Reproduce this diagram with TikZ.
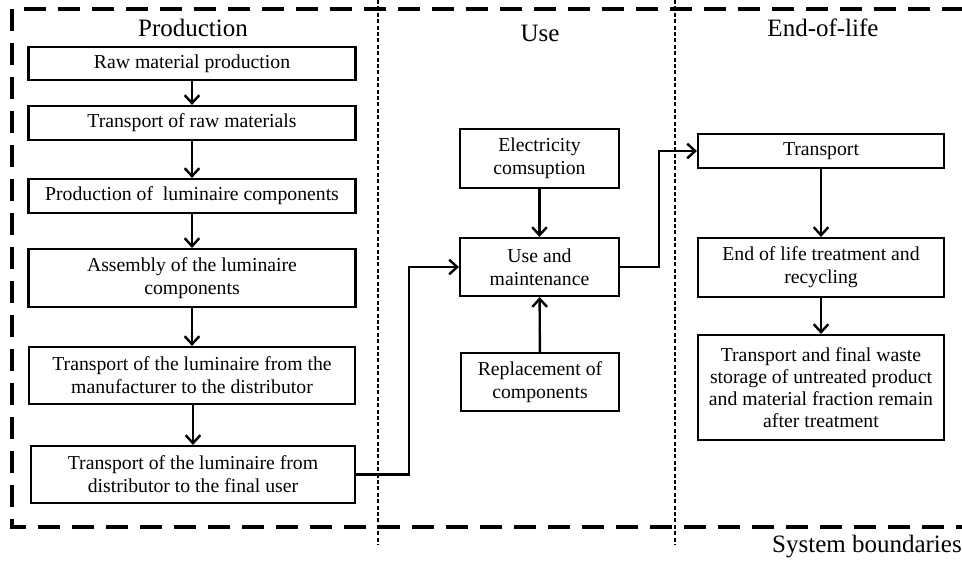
\documentclass[tikz,border=0pt]{standalone}
\usepackage{fontspec}
\setmainfont{Liberation Serif}
\usetikzlibrary{arrows.meta}
\tikzset{
  stagebox/.style={draw, line width=1.6pt, inner sep=0pt, align=center,
    font=\fontsize{14.8pt}{17.25pt}\selectfont},
  flow/.style={line width=1.8pt, -{Straight Barb[length=6pt,width=11pt]}},
  title/.style={inner sep=0pt, font=\fontsize{18.75pt}{22pt}\selectfont},
  boundary/.style={line width=2.4pt, dash pattern=on 16.5pt off 9pt},
  divider/.style={line width=1.6pt, dash pattern=on 3pt off 1.8pt}
}
\begin{document}
\begin{tikzpicture}[x=0.75pt,y=-0.75pt]
\useasboundingbox (0,0) rectangle (962,561);
% system boundary
\draw[boundary] (964,9) -- (12,9) -- (12,527) -- (964,527);
% phase dividers
\draw[divider] (378,0) coordinate (d1a) -- (378,545) coordinate (d1b);
\draw[divider] (675,0) coordinate (d2a) -- (675,545) coordinate (d2b);
% titles
\node[title] (tprod) at (193,28) {Production};
\node[title] (tuse) at (540,33) {Use};
\node[title] (teol) at (823,28) {End-of-life};
\node[title, anchor=east] (tsys) at (962,547) {System boundaries};
% production
\node[stagebox, minimum width=327*0.75pt, minimum height=33*0.75pt] (raw) at (192,63.5) {Raw material production};
\node[stagebox, minimum width=327*0.75pt, minimum height=34*0.75pt] (trm) at (192,123) {Transport of raw materials};
\node[stagebox, minimum width=327*0.75pt, minimum height=34*0.75pt] (plc) at (192,196) {Production of\ \ luminaire components};
\node[stagebox, minimum width=327*0.75pt, minimum height=58*0.75pt] (asm) at (192,278) {Assembly of the luminaire\\components};
\node[stagebox, minimum width=326*0.75pt, minimum height=57*0.75pt] (tmd) at (192,375.5) {Transport of the luminaire from the\\manufacturer to the distributor};
\node[stagebox, minimum width=324*0.75pt, minimum height=57*0.75pt] (tdu) at (193,474.5) {Transport of the luminaire from\\distributor to the final user};
% use
\node[stagebox, minimum width=159*0.75pt, minimum height=59*0.75pt] (elec) at (539.5,158.5) {Electricity\\comsuption};
\node[stagebox, minimum width=159*0.75pt, minimum height=58*0.75pt] (usem) at (539.5,267) {Use and\\maintenance};
\node[stagebox, minimum width=158*0.75pt, minimum height=58*0.75pt] (repl) at (540,382) {Replacement of\\components};
% end of life
\node[stagebox, minimum width=246*0.75pt, minimum height=34*0.75pt] (teolb) at (821,151) {Transport};
\node[stagebox, minimum width=246*0.75pt, minimum height=59*0.75pt] (treat) at (821,267.5) {End of life treatment and\\recycling};
\node[stagebox, minimum width=246*0.75pt, minimum height=105*0.75pt, font=\fontsize{14.8pt}{16.4pt}\selectfont] (final) at (821,387.5) {Transport and final waste\\storage of untreated product\\and material fraction remain\\after treatment};
% connectors
\draw[flow] (raw) -- (trm);
\draw[flow] (trm) -- (plc);
\draw[flow] (plc) -- (asm);
\draw[flow] (asm) -- (tmd);
\draw[flow] (tmd.south -| tdu.north) -- (tdu.north);
\draw[flow] (tdu.east) -- ++(53,0) |- (usem.west);
\draw[flow] (elec) -- (usem);
\draw[flow] (repl) -- (usem);
\draw[flow] (usem.east) -- ++(39,0) |- (teolb.west);
\draw[flow] (teolb) -- (treat);
\draw[flow] (treat) -- (final);
\end{tikzpicture}
\end{document}
